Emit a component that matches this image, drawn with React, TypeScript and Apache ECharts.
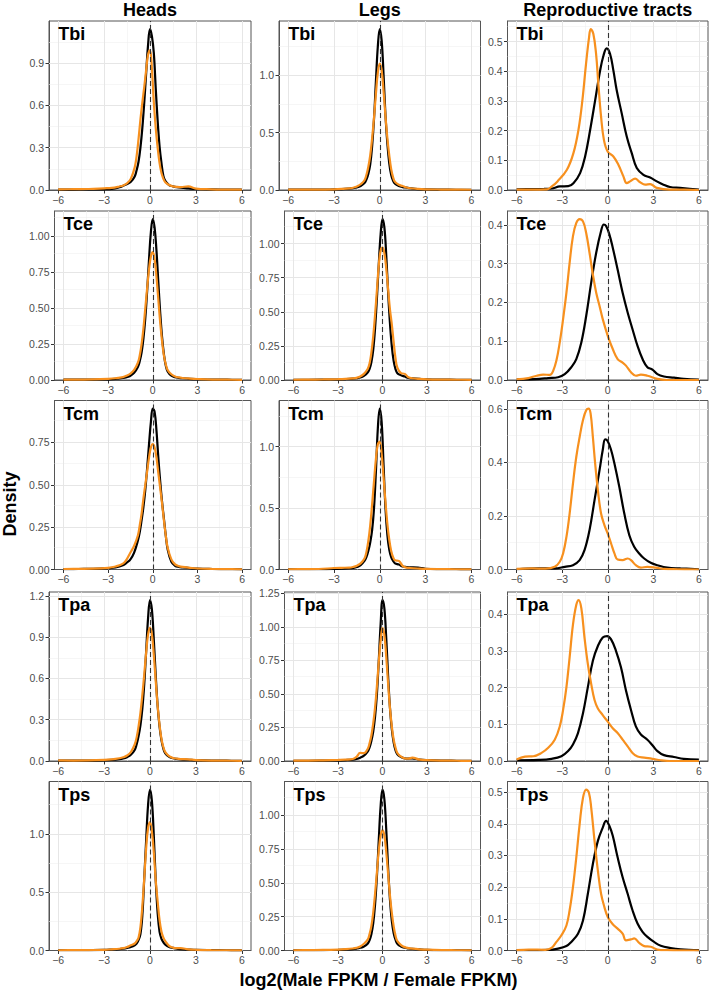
import React, { useEffect, useRef } from "react";
import * as echarts from "echarts";

// ---------------- data ----------------
const SPECIES = ["Tbi", "Tce", "Tcm", "Tpa", "Tps"];
const TISSUES = ["Heads", "Legs", "Reproductive tracts"];
const X_TITLE = "log2(Male FPKM / Female FPKM)";
const Y_TITLE = "Density";
const X_TICKS = [-6, -3, 0, 3, 6];
const X_MINOR = [-4.5, -1.5, 1.5, 4.5];

// sample positions used for the narrow (heads / legs) density curves
const X_NARROW = [
  -6, -5, -4, -3, -2.5, -2, -1.75, -1.5, -1.25, -1,
  -0.875, -0.75, -0.625, -0.5, -0.375, -0.25, -0.125,
  0,
  0.125, 0.25, 0.375, 0.5, 0.625, 0.75, 0.875,
  1, 1.25, 1.5, 1.75, 2,
  2.5, 3, 4, 5, 6,
];

// Heads
const headsTbiBlack = [.003, .003, .004, .005, .008, .02, .03, .042, .058, .095, .14, .2, .3, .44, .62, .83, 1.03, 1.14, 1.09, .97, .72, .49, .31, .19, .1, .065, .035, .026, .02, .016, .011, .007, .004, .003, .002];
const headsTbiOrange = [.004, .006, .007, .012, .015, .025, .032, .048, .08, .16, .24, .36, .5, .62, .73, .85, .96, .99, .86, .62, .44, .3, .19, .12, .08, .055, .035, .026, .022, .02, .026, .01, .005, .003, .002];
const headsTceBlack = [.002, .002, .003, .005, .008, .014, .02, .03, .05, .09, .13, .19, .29, .43, .62, .84, 1.03, 1.12, 1.06, .9, .68, .47, .3, .18, .1, .06, .03, .02, .015, .012, .008, .006, .003, .002, .001];
const headsTceOrange = [.002, .003, .004, .008, .012, .02, .03, .045, .07, .12, .17, .25, .36, .5, .64, .77, .86, .89, .84, .72, .56, .4, .27, .17, .11, .07, .04, .025, .018, .014, .01, .007, .003, .002, .001];
const headsTcmBlack = [.002, .003, .004, .008, .012, .025, .04, .06, .1, .17, .22, .29, .37, .47, .6, .74, .87, .95, .93, .82, .66, .52, .4, .3, .2, .12, .045, .022, .015, .012, .008, .005, .003, .002, .001];
const headsTcmOrange = [.003, .004, .005, .01, .018, .035, .06, .1, .14, .2, .26, .33, .42, .5, .58, .66, .72, .74, .72, .66, .57, .48, .39, .29, .2, .13, .06, .03, .02, .015, .01, .006, .003, .002, .001];
const headsTpaBlack = [.002, .002, .003, .006, .008, .013, .018, .028, .045, .08, .12, .18, .26, .38, .56, .8, 1.04, 1.17, 1.1, .88, .62, .4, .25, .15, .09, .055, .03, .02, .015, .012, .009, .006, .003, .002, .001];
const headsTpaOrange = [.004, .003, .004, .008, .012, .02, .027, .04, .065, .12, .17, .25, .35, .48, .63, .79, .92, .97, .92, .77, .58, .4, .26, .16, .1, .065, .035, .022, .017, .014, .012, .007, .003, .002, .001];
const headsTpsBlack = [.002, .002, .003, .005, .008, .012, .016, .022, .03, .045, .06, .09, .14, .3, .62, .95, 1.25, 1.38, 1.28, .98, .6, .32, .16, .1, .07, .05, .03, .022, .015, .012, .008, .005, .003, .002, .001];
const headsTpsOrange = [.002, .003, .004, .006, .01, .015, .02, .03, .045, .06, .08, .11, .2, .38, .62, .88, 1.05, 1.1, 1.02, .84, .6, .42, .26, .16, .11, .08, .04, .025, .02, .02, .01, .006, .003, .002, .001];

// Legs
const legsTbiBlack = [.003, .003, .003, .005, .007, .012, .016, .022, .035, .06, .09, .14, .22, .38, .62, .95, 1.25, 1.4, 1.3, 1.0, .65, .4, .23, .13, .08, .055, .035, .025, .02, .015, .008, .005, .003, .002, .001];
const legsTbiOrange = [.004, .004, .004, .006, .009, .014, .02, .03, .05, .085, .13, .2, .3, .45, .63, .84, 1.02, 1.1, 1.04, .86, .64, .45, .3, .18, .11, .07, .045, .035, .022, .015, .009, .006, .004, .003, .002];
const legsTceBlack = [.002, .002, .003, .005, .007, .01, .013, .018, .03, .055, .08, .13, .22, .38, .6, .85, 1.07, 1.18, 1.12, .92, .65, .42, .25, .14, .08, .05, .035, .025, .015, .012, .008, .005, .003, .002, .001];
const legsTceOrange = [.002, .003, .004, .006, .008, .012, .016, .025, .045, .08, .12, .2, .32, .48, .66, .84, .95, .97, .93, .82, .67, .52, .41, .28, .16, .09, .05, .045, .02, .013, .008, .005, .003, .002, .001];
const legsTcmBlack = [.002, .002, .003, .005, .007, .01, .013, .02, .035, .07, .1, .15, .22, .32, .5, .8, 1.15, 1.31, 1.2, .85, .5, .28, .16, .1, .07, .05, .04, .025, .02, .018, .015, .006, .003, .002, .001];
const legsTcmOrange = [.002, .003, .004, .012, .014, .015, .02, .03, .05, .09, .14, .23, .36, .53, .72, .9, 1.02, 1.04, .94, .75, .55, .37, .24, .15, .1, .075, .07, .03, .015, .012, .008, .005, .003, .002, .001];
const legsTpaBlack = [.002, .002, .003, .005, .007, .01, .015, .025, .04, .07, .1, .15, .22, .33, .5, .75, 1.02, 1.2, 1.14, .92, .64, .4, .24, .14, .08, .05, .03, .02, .018, .02, .01, .006, .003, .002, .001];
const legsTpaOrange = [.003, .003, .005, .008, .01, .015, .03, .06, .058, .09, .13, .19, .28, .4, .56, .74, .9, .99, .94, .78, .58, .4, .26, .16, .1, .06, .032, .02, .018, .025, .01, .006, .003, .002, .001];
const legsTpsBlack = [.002, .002, .003, .005, .007, .01, .014, .02, .03, .05, .075, .12, .2, .34, .55, .82, 1.07, 1.19, 1.12, .9, .62, .38, .22, .13, .08, .05, .03, .02, .015, .012, .008, .005, .003, .002, .001];
const legsTpsOrange = [.002, .003, .004, .007, .01, .015, .02, .03, .05, .08, .12, .18, .28, .42, .58, .74, .85, .89, .85, .73, .57, .41, .28, .18, .11, .07, .04, .025, .018, .014, .009, .006, .003, .002, .001];

// Reproductive tracts ([x, density])
const reproTbiBlack = [[-6, .002], [-5, .003], [-4.2, .004], [-3.7, .005], [-3.15, .012], [-2.6, .013], [-2.26, .023], [-1.82, .057], [-1.49, .113], [-1.16, .202], [-0.83, .302], [-0.5, .403], [-0.28, .453], [-0.07, .477], [0.15, .459], [0.37, .403], [0.59, .336], [0.92, .258], [1.25, .18], [1.58, .124], [1.91, .074], [2.35, .051], [2.79, .042], [3.23, .029], [3.67, .018], [4.1, .01], [4.76, .007], [5.4, .004], [6, .001]];
const reproTbiOrange = [[-6, .001], [-5, .001], [-4, .002], [-3.68, .012], [-3.31, .029], [-2.69, .068], [-2.26, .124], [-1.93, .202], [-1.67, .302], [-1.43, .425], [-1.23, .514], [-1.12, .542], [-0.95, .526], [-0.77, .459], [-0.62, .358], [-0.44, .247], [-0.25, .168], [0, .129], [0.37, .113], [0.7, .085], [1.03, .046], [1.25, .023], [1.47, .029], [1.8, .038], [2.13, .026], [2.46, .018], [2.79, .02], [3.23, .007], [4.1, .001], [5, .001], [6, 0]];
const reproTceBlack = [[-6, .001], [-4.5, .003], [-3.92, .005], [-3.27, .007], [-2.83, .015], [-2.4, .033], [-2.07, .054], [-1.74, .097], [-1.42, .165], [-1.09, .251], [-0.76, .328], [-0.44, .384], [-0.26, .401], [-0.11, .397], [0.11, .375], [0.33, .341], [0.65, .285], [0.98, .225], [1.31, .174], [1.63, .131], [1.96, .088], [2.29, .054], [2.61, .033], [2.94, .027], [3.27, .015], [3.7, .009], [4.36, .006], [5, .003], [6, .001]];
const reproTceOrange = [[-6, .002], [-5.23, .005], [-4.68, .011], [-4.25, .014], [-3.81, .013], [-3.59, .024], [-3.38, .05], [-3.16, .097], [-2.94, .157], [-2.72, .225], [-2.51, .302], [-2.29, .371], [-2.07, .405], [-1.85, .415], [-1.63, .409], [-1.42, .379], [-1.2, .328], [-0.98, .272], [-0.76, .225], [-0.54, .191], [-0.33, .157], [0, .114], [0.33, .08], [0.65, .054], [0.98, .045], [1.2, .037], [1.53, .02], [1.85, .011], [2.18, .014], [2.61, .011], [3.27, .003], [3.9, 0], [6, 0]];
const reproTcmBlack = [[-6, .001], [-4.58, .004], [-3.49, .004], [-2.83, .01], [-2.29, .016], [-1.85, .035], [-1.53, .072], [-1.2, .147], [-0.87, .259], [-0.54, .371], [-0.33, .446], [-0.17, .486], [0, .479], [0.22, .446], [0.44, .396], [0.76, .309], [1.09, .209], [1.42, .128], [1.74, .085], [2.07, .06], [2.4, .041], [2.83, .025], [3.27, .016], [3.92, .007], [4.79, .004], [6, .001]];
const reproTcmOrange = [[-6, .002], [-5, .004], [-4.1, .003], [-3.49, .01], [-3.16, .029], [-2.94, .06], [-2.72, .122], [-2.51, .209], [-2.29, .321], [-2.07, .421], [-1.85, .495], [-1.63, .558], [-1.42, .595], [-1.26, .601], [-1.13, .583], [-0.98, .495], [-0.83, .396], [-0.65, .296], [-0.44, .209], [-0.22, .166], [0, .134], [0.22, .097], [0.44, .06], [0.65, .037], [0.98, .035], [1.31, .041], [1.53, .035], [1.85, .016], [2.18, .007], [2.61, .01], [3.16, .007], [3.7, .002], [4.6, .001], [6, 0]];
const reproTpaBlack = [[-6, .002], [-4.58, .003], [-3.7, .006], [-3.05, .013], [-2.61, .027], [-2.29, .045], [-1.96, .076], [-1.63, .13], [-1.31, .201], [-0.98, .273], [-0.65, .313], [-0.33, .336], [-0.04, .34], [0.22, .331], [0.54, .3], [0.87, .255], [1.2, .192], [1.53, .139], [1.85, .094], [2.18, .072], [2.61, .058], [2.94, .043], [3.27, .027], [3.7, .016], [4.36, .011], [5, .006], [6, .004]];
const reproTpaOrange = [[-6, .004], [-5.45, .012], [-4.9, .013], [-4.36, .022], [-3.92, .036], [-3.49, .058], [-3.16, .094], [-2.94, .139], [-2.72, .201], [-2.51, .282], [-2.29, .371], [-2.07, .425], [-1.92, .438], [-1.74, .416], [-1.53, .336], [-1.31, .264], [-1.09, .21], [-0.87, .166], [-0.65, .143], [-0.33, .125], [0, .107], [0.33, .089], [0.65, .076], [0.98, .058], [1.31, .04], [1.63, .022], [1.96, .012], [2.4, .009], [2.94, .006], [3.49, .002], [4.1, 0], [6, 0]];
const reproTpsBlack = [[-6, .001], [-3.92, .002], [-3.27, .006], [-2.72, .014], [-2.4, .027], [-1.96, .053], [-1.63, .095], [-1.31, .179], [-0.98, .273], [-0.65, .346], [-0.33, .388], [-0.11, .409], [0.11, .393], [0.33, .362], [0.65, .294], [0.98, .231], [1.31, .179], [1.63, .127], [1.96, .085], [2.29, .059], [2.61, .043], [3.05, .027], [3.49, .015], [4.14, .008], [4.79, .004], [6, .001]];
const reproTpsOrange = [[-6, .001], [-5.2, .003], [-4.1, .002], [-3.7, .008], [-3.38, .027], [-3.05, .048], [-2.72, .079], [-2.51, .127], [-2.29, .2], [-2.07, .294], [-1.85, .399], [-1.63, .482], [-1.42, .508], [-1.24, .498], [-1.09, .451], [-0.87, .346], [-0.65, .252], [-0.44, .179], [-0.22, .137], [0, .106], [0.33, .083], [0.65, .069], [0.98, .053], [1.2, .032], [1.53, .035], [1.74, .038], [2.07, .024], [2.4, .014], [2.83, .012], [3.27, .003], [3.9, .001], [6, 0]];

// y tick labels for each panel (rows = species, per tissue)
const HEADS_Y_TICKS = [[0, 0.3, 0.6, 0.9], [0, 0.25, 0.5, 0.75, 1], [0, 0.25, 0.5, 0.75], [0, 0.3, 0.6, 0.9, 1.2], [0, 0.5, 1]];
const LEGS_Y_TICKS = [[0, 0.5, 1], [0, 0.25, 0.5, 0.75, 1], [0, 0.5, 1], [0, 0.25, 0.5, 0.75, 1, 1.25], [0, 0.25, 0.5, 0.75, 1]];
const REPRO_Y_TICKS = [[0, 0.1, 0.2, 0.3, 0.4, 0.5], [0, 0.1, 0.2, 0.3, 0.4], [0, 0.2, 0.4, 0.6], [0, 0.1, 0.2, 0.3, 0.4], [0, 0.1, 0.2, 0.3, 0.4, 0.5]];

const HEADS_BLACK = [headsTbiBlack, headsTceBlack, headsTcmBlack, headsTpaBlack, headsTpsBlack];
const HEADS_ORANGE = [headsTbiOrange, headsTceOrange, headsTcmOrange, headsTpaOrange, headsTpsOrange];
const LEGS_BLACK = [legsTbiBlack, legsTceBlack, legsTcmBlack, legsTpaBlack, legsTpsBlack];
const LEGS_ORANGE = [legsTbiOrange, legsTceOrange, legsTcmOrange, legsTpaOrange, legsTpsOrange];
const REPRO_BLACK = [reproTbiBlack, reproTceBlack, reproTcmBlack, reproTpaBlack, reproTpsBlack];
const REPRO_ORANGE = [reproTbiOrange, reproTceOrange, reproTcmOrange, reproTpaOrange, reproTpsOrange];

// ---------------- layout / style ----------------
const W = 709;
const H = 992;
const FONT = '"Liberation Sans", Arial, Helvetica, sans-serif';
const COL_RIGHT = [251, 480.5, 708];
const COL_BASE_LEFT = [49, 279, 507.5];
const ROW_TOP = [21, 211, 400.5, 592, 781.5];
const PANEL_H = 169;
const DIGIT_W = 5.5;
const X_MIN = -6.6;
const X_MAX = 6.6;
const BLACK = "#000000";
const ORANGE = "#F7901E";
const BORDER = "#555555";
const GRID_MAJOR = "#E6E6E6";
const GRID_MINOR = "#F0F0F0";
const TITLE_FONT = `bold 18px ${FONT}`;

const decimalsOf = (ticks: number[]) =>
  Math.max(1, ...ticks.map((t) => (String(t).split(".")[1] || "").length));

const zipNarrow = (ys: number[]) => X_NARROW.map((x, i) => [x, ys[i]]);

function buildOption() {
  const grids: any[] = [];
  const xAxes: any[] = [];
  const yAxes: any[] = [];
  const series: any[] = [];
  const graphics: any[] = [];

  let idx = 0;
  for (let r = 0; r < SPECIES.length; r++) {
    for (let c = 0; c < TISSUES.length; c++) {
      let black: number[][];
      let orange: number[][];
      let yTicks: number[];
      if (c === 0) {
        black = zipNarrow(HEADS_BLACK[r]);
        orange = zipNarrow(HEADS_ORANGE[r]);
        yTicks = HEADS_Y_TICKS[r];
      } else if (c === 1) {
        black = zipNarrow(LEGS_BLACK[r]);
        orange = zipNarrow(LEGS_ORANGE[r]);
        yTicks = LEGS_Y_TICKS[r];
      } else {
        black = REPRO_BLACK[r];
        orange = REPRO_ORANGE[r];
        yTicks = REPRO_Y_TICKS[r];
      }
      const dec = decimalsOf(yTicks);
      const yMax =
        Math.max(...black.map((p) => p[1]), ...orange.map((p) => p[1])) * 1.05;
      const left = COL_BASE_LEFT[c] + (dec - 1) * DIGIT_W;
      const width = COL_RIGHT[c] - left;
      const top = ROW_TOP[r];

      grids.push({
        left,
        top,
        width,
        height: PANEL_H,
        show: true,
        borderColor: BORDER,
        borderWidth: 1,
        backgroundColor: "#ffffff",
        containLabel: false,
        outerBoundsMode: "none",
      });

      xAxes.push({
        gridIndex: idx,
        type: "value",
        min: X_MIN,
        max: X_MAX,
        splitLine: { show: false },
        axisLine: { show: true, onZero: false, lineStyle: { color: BORDER, width: 1 } },
        axisTick: {
          show: true,
          customValues: X_TICKS,
          length: 3.5,
          lineStyle: { color: "#333333", width: 1 },
        },
        axisLabel: {
          customValues: X_TICKS,
          formatter: (v: number) => (v < 0 ? "\u2212" : "") + Math.abs(v),
          color: "#4D4D4D",
          fontSize: 10.5,
          fontFamily: FONT,
          margin: 4,
        },
      });

      yAxes.push({
        gridIndex: idx,
        type: "value",
        min: 0,
        max: yMax,
        splitLine: { show: false },
        axisLine: { show: true, onZero: false, lineStyle: { color: BORDER, width: 1 } },
        axisTick: {
          show: true,
          customValues: yTicks,
          length: 3.5,
          lineStyle: { color: "#333333", width: 1 },
        },
        axisLabel: {
          customValues: yTicks,
          formatter: (v: number) => v.toFixed(dec),
          color: "#4D4D4D",
          fontSize: 10.5,
          fontFamily: FONT,
          margin: 5,
        },
      });

      // grid lines (major + minor), ggplot theme_bw style
      const step = yTicks[1] - yTicks[0];
      const yMinor: number[] = [];
      for (let k = 0; k < yTicks.length; k++) {
        const m = yTicks[k] + step / 2;
        if (m < yMax) yMinor.push(m);
      }
      const gridData: any[] = [];
      X_MINOR.forEach((v) =>
        gridData.push({ xAxis: v, lineStyle: { color: GRID_MINOR, width: 0.6, type: "solid" } })
      );
      yMinor.forEach((v) =>
        gridData.push({ yAxis: v, lineStyle: { color: GRID_MINOR, width: 0.6, type: "solid" } })
      );
      X_TICKS.forEach((v) =>
        gridData.push({ xAxis: v, lineStyle: { color: GRID_MAJOR, width: 1, type: "solid" } })
      );
      yTicks
        .filter((v) => v > 0 && v < yMax)
        .forEach((v) =>
          gridData.push({ yAxis: v, lineStyle: { color: GRID_MAJOR, width: 1, type: "solid" } })
        );

      series.push({
        name: `${SPECIES[r]} ${TISSUES[c]} black`,
        type: "line",
        xAxisIndex: idx,
        yAxisIndex: idx,
        data: black,
        showSymbol: false,
        symbol: "none",
        smooth: 0.4,
        lineStyle: { color: BLACK, width: 2.2 },
        z: 2,
        silent: true,
        markLine: {
          silent: true,
          symbol: ["none", "none"],
          z: 1,
          animation: false,
          label: { show: false },
          emphasis: { disabled: true },
          data: gridData,
        },
      });
      series.push({
        name: `${SPECIES[r]} ${TISSUES[c]} orange`,
        type: "line",
        xAxisIndex: idx,
        yAxisIndex: idx,
        data: orange,
        showSymbol: false,
        symbol: "none",
        smooth: 0.4,
        lineStyle: { color: ORANGE, width: 2.2 },
        z: 2,
        silent: true,
        markLine: {
          silent: true,
          symbol: ["none", "none"],
          z: 3,
          animation: false,
          label: { show: false },
          emphasis: { disabled: true },
          lineStyle: { color: "#333333", width: 1.1, type: [5, 3] },
          data: [{ xAxis: 0 }],
        },
      });

      // species label at x = -6 inside the panel
      const xAtMinus6 = left + ((-6 - X_MIN) / (X_MAX - X_MIN)) * width;
      graphics.push({
        type: "text",
        x: xAtMinus6,
        y: top + 4,
        z: 10,
        style: {
          text: SPECIES[r],
          fill: "#000000",
          font: TITLE_FONT,
          textAlign: "left",
          align: "left",
          textVerticalAlign: "top",
          verticalAlign: "top",
        },
      });

      if (r === 0) {
        graphics.push({
          type: "text",
          x: left + width / 2,
          y: 1,
          z: 10,
          style: {
            text: TISSUES[c],
            fill: "#000000",
            font: TITLE_FONT,
            textAlign: "center",
            align: "center",
            textVerticalAlign: "top",
            verticalAlign: "top",
          },
        });
      }
      idx++;
    }
  }

  graphics.push({
    type: "text",
    x: 10,
    y: 504,
    rotation: Math.PI / 2,
    z: 10,
    style: {
      text: Y_TITLE,
      fill: "#000000",
      font: TITLE_FONT,
      textAlign: "center",
      align: "center",
      textVerticalAlign: "middle",
      verticalAlign: "middle",
    },
  });
  graphics.push({
    type: "text",
    x: (COL_BASE_LEFT[0] + COL_RIGHT[2]) / 2,
    y: 971,
    z: 10,
    style: {
      text: X_TITLE,
      fill: "#000000",
      font: TITLE_FONT,
      textAlign: "center",
      align: "center",
      textVerticalAlign: "top",
      verticalAlign: "top",
    },
  });

  return {
    animation: false,
    backgroundColor: "#ffffff",
    grid: grids,
    xAxis: xAxes,
    yAxis: yAxes,
    series,
    graphic: { elements: graphics },
  };
}

export default function App() {
  const ref = useRef<HTMLDivElement>(null);
  useEffect(() => {
    if (!ref.current) return;
    const chart = echarts.init(ref.current, undefined, { renderer: "svg", width: W, height: H });
    chart.setOption(buildOption() as any);
    return () => chart.dispose();
  }, []);
  return (
    <div
      ref={ref}
      style={{ position: "absolute", left: 0, top: 0, width: W, height: H, background: "#fff" }}
    />
  );
}
